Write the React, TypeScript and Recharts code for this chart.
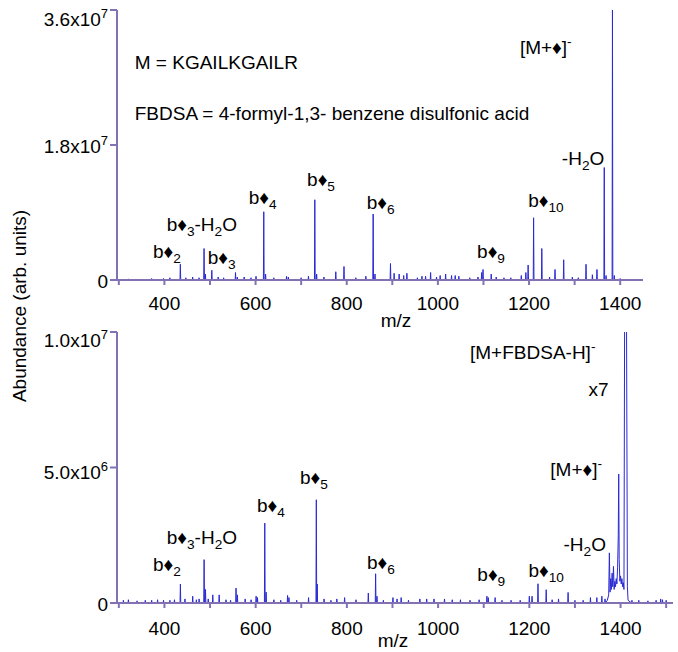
import React from 'react';
import { LineChart, Line, XAxis, YAxis, ReferenceDot } from 'recharts';

const FONT = '"Liberation Sans", Arial, Helvetica, sans-serif';
const AXIS = '#8272b4';
const TRACE = '#2a2ad4';

// upper spectrum: isolated peaks, m/z and height (x10^6)
const topPeakMz = [
  321, 340, 372, 398, 412, 435, 447, 462, 476, 487, 490, 504, 518, 530, 556, 560, 575, 590, 601, 618,
  622, 640, 668, 672, 700, 716, 730, 734, 750, 776, 794, 820, 842, 858, 862, 896, 904, 915, 925, 932,
  955, 965, 973, 984, 997, 1005, 1017, 1030, 1038, 1046, 1070, 1088, 1096, 1099, 1117, 1128, 1145, 1160,
  1183, 1193, 1198, 1210, 1228, 1245, 1257, 1276, 1295, 1308, 1325, 1339, 1349, 1365, 1369, 1383, 1387,
  1400, 1420,
];
const topPeakHeight = [
  0.15, 0.1, 0.2, 0.2, 0.3, 2.1, 0.3, 0.4, 0.3, 4.2, 0.8, 1.3, 0.4, 0.3, 1.0, 0.4, 0.4, 0.3, 0.5, 9.1,
  0.8, 0.3, 0.5, 0.4, 0.3, 0.5, 10.7, 0.8, 0.4, 1.1, 1.8, 0.3, 0.5, 8.8, 0.8, 2.2, 0.9, 0.8, 0.6, 0.9,
  0.3, 0.5, 0.5, 1.0, 0.4, 0.6, 0.8, 0.6, 0.6, 0.5, 0.3, 0.4, 1.0, 1.4, 0.8, 0.4, 0.3, 0.3,
  0.6, 1.0, 2.0, 8.3, 4.2, 0.4, 1.4, 2.7, 0.4, 0.3, 2.1, 0.7, 1.4, 15.0, 0.6, 36.5, 0.6,
  0.2, 0.1,
];

// lower spectrum: isolated peaks, m/z and height (x10^6)
const bottomPeakMz = [
  310, 321, 340, 358, 372, 385, 398, 412, 422, 435, 445, 462, 470, 476, 487, 490, 496, 506, 520, 535,
  545, 557, 560, 577, 590, 601, 604, 620, 623, 640, 655, 670, 673, 690, 716, 733, 735, 750, 765, 778,
  795, 820, 847, 863, 866, 880, 901, 910, 919, 935, 960, 975, 991, 1014, 1031, 1049, 1070, 1090, 1107,
  1110, 1125, 1140, 1160, 1180, 1200, 1206, 1219, 1237, 1250, 1264, 1285, 1300, 1318, 1334, 1348, 1359,
  1366, 1425, 1440, 1460, 1478, 1488, 1492, 1500,
];
const bottomPeakHeight = [
  0.1, 0.12, 0.08, 0.1, 0.1, 0.12, 0.1, 0.1, 0.12, 0.7, 0.15, 0.25, 0.12, 0.15, 1.6, 0.5, 0.15, 0.3, 0.3, 0.12,
  0.1, 0.55, 0.3, 0.15, 0.12, 0.25, 0.2, 2.95, 0.4, 0.12, 0.1, 0.28, 0.2, 0.1, 0.2, 3.81, 0.7, 0.15, 0.1, 0.15,
  0.2, 0.12, 0.37, 1.08, 0.25, 0.1, 0.2, 0.15, 0.2, 0.1, 0.15, 0.15, 0.15, 0.15, 0.12, 0.12, 0.1, 0.12, 0.25,
  0.2, 0.2, 0.1, 0.1, 0.1, 0.25, 0.25, 0.71, 0.49, 0.12, 0.15, 0.39, 0.1, 0.1, 0.2, 0.2, 0.25,
  0.15, 0.1, 0.1, 0.08, 0.1, 0.15, 0.12, 0.1,
];
// unresolved precursor cluster, traced point by point (x10^6)
const bottomClusterMz = [
  1371, 1374, 1375.5, 1377, 1378.5, 1380, 1381.5, 1383, 1384.5, 1386, 1387.5, 1389, 1390.5, 1392, 1393.5,
  1395, 1396, 1397, 1398.5, 1400, 1401.5, 1403, 1404.5, 1406, 1407.5, 1409, 1411, 1413, 1415, 1416.5,
];
const bottomClusterHeight = [
  0.1, 0.3, 1.85, 0.4, 0.9, 0.5, 1.1, 0.6, 1.35, 0.5, 0.8, 0.6, 0.9, 0.7, 1.3,
  2.5, 4.76, 1.6, 0.8, 1.0, 0.7, 0.9, 0.6, 0.75, 0.5, 11, 11.5, 11, 0.6, 0.1,
];

const topXDomain = [296, 1450];
const bottomXDomain = [296, 1515];
const topXTicks = [300, 400, 500, 600, 700, 800, 900, 1000, 1100, 1200, 1300, 1400];
const bottomXTicks = [300, 400, 500, 600, 700, 800, 900, 1000, 1100, 1200, 1300, 1400, 1500];
const xLabelled = [400, 600, 800, 1000, 1200, 1400];

const topYTicks = [0, 1.8e7, 3.6e7];
const topYMantissa = ['0', '1.8x10', '3.6x10'];
const topYExponent = ['', '7', '7'];
const bottomYTicks = [0, 5e6, 1e7];
const bottomYMantissa = ['0', '5.0x10', '1.0x10'];
const bottomYExponent = ['', '6', '7'];

// annotations: "_" starts a subscript, "^" a superscript
const topLabelText = [
  'M = KGAILKGAILR',
  'FBDSA = 4-formyl-1,3- benzene disulfonic acid',
  '[M+♦]^-',
  '-H_2O',
  'b♦_10',
  'b♦_9',
  'b♦_6',
  'b♦_5',
  'b♦_4',
  'b♦_3-H_2O',
  'b♦_2',
  'b♦_3',
];
const topLabelMz = [335, 335, 1180, 1272, 1198, 1086, 844, 713, 585, 405, 375, 495];
const topLabelValue = [28.1, 21.4, 30.2, 15.4, 9.8, 2.9, 9.5, 12.5, 10.1, 6.5, 3.0, 2.1];

const bottomLabelText = [
  '[M+FBDSA-H]^-',
  'x7',
  '[M+♦]^-',
  '-H_2O',
  'b♦_10',
  'b♦_9',
  'b♦_6',
  'b♦_5',
  'b♦_4',
  'b♦_3-H_2O',
  'b♦_2',
];
const bottomLabelMz = [1070, 1330, 1246, 1275, 1198, 1086, 844, 697, 603, 405, 375];
const bottomLabelValue = [9.0, 7.65, 4.7, 1.93, 0.97, 0.82, 1.27, 4.4, 3.37, 2.19, 1.19];

type Pt = { mz: number; v: number };

function spikes(mz: number[], h: number[], domain: number[]): Pt[] {
  const pts: Pt[] = [{ mz: domain[0], v: 0 }];
  mz.forEach((m, i) => {
    pts.push({ mz: m - 0.8, v: 0 }, { mz: m, v: h[i] * 1e6 }, { mz: m + 0.8, v: 0 });
  });
  pts.push({ mz: domain[1], v: 0 });
  return pts;
}

const topData = spikes(topPeakMz, topPeakHeight, topXDomain).sort((a, b) => a.mz - b.mz);
const bottomData = spikes(bottomPeakMz, bottomPeakHeight, bottomXDomain)
  .concat(bottomClusterMz.map((m, i) => ({ mz: m, v: bottomClusterHeight[i] * 1e6 })))
  .sort((a, b) => a.mz - b.mz);

type Part = { t: string; kind: 'n' | 'sub' | 'sup' };

function parseRich(s: string): Part[] {
  const out: Part[] = [];
  let i = 0;
  let buf = '';
  while (i < s.length) {
    const c = s[i];
    if (c === '_' || c === '^') {
      if (buf) out.push({ t: buf, kind: 'n' });
      buf = '';
      i++;
      let seg = s[i];
      i++;
      if (c === '_') {
        while (i < s.length && /[0-9]/.test(s[i])) {
          seg += s[i];
          i++;
        }
      }
      out.push({ t: seg, kind: c === '_' ? 'sub' : 'sup' });
    } else {
      buf += c;
      i++;
    }
  }
  if (buf) out.push({ t: buf, kind: 'n' });
  return out;
}

function RichText({ x, y, text, size = 19 }: { x: number; y: number; text: string; size?: number }) {
  const parts = parseRich(text);
  let shift = 0;
  return (
    <text x={x} y={y} fontSize={size} fontFamily={FONT} fill="#000">
      {parts.map((p, i) => {
        const target = p.kind === 'sub' ? 5 : p.kind === 'sup' ? -8 : 0;
        const dy = target - shift;
        shift = target;
        return (
          <tspan key={i} dy={dy} fontSize={p.kind === 'n' ? size : size * 0.72}>
            {p.t}
          </tspan>
        );
      })}
    </text>
  );
}

function XTick(props: any) {
  const { x, y, payload } = props;
  if (!xLabelled.includes(payload.value)) return null;
  return (
    <text x={x} y={y} dy="0.71em" textAnchor="middle" fontSize={19} fontFamily={FONT} fill="#000">
      {payload.value}
    </text>
  );
}

function makeYTick(mantissa: string[], exponent: string[], shifts: number[]) {
  return function YTick(props: any) {
    const { x, y, index } = props;
    return (
      <text x={x} y={y + shifts[index]} dy="0.35em" textAnchor="end" fontSize={19} fontFamily={FONT} fill="#000">
        {mantissa[index]}
        {exponent[index] ? (
          <tspan dy={-8} fontSize={13}>
            {exponent[index]}
          </tspan>
        ) : null}
      </text>
    );
  };
}

const TopYTick = makeYTick(topYMantissa, topYExponent, [1, 1, 9]);
const BottomYTick = makeYTick(bottomYMantissa, bottomYExponent, [1, 5, 8]);

const axisStyle = { stroke: AXIS, strokeWidth: 2 };

function Panel(props: {
  data: Pt[];
  domain: number[];
  xTicks: number[];
  yTicks: number[];
  yMax: number;
  YTick: any;
  labels: string[];
  labelMz: number[];
  labelValue: number[];
  right: number;
  bottom: number;
  tickMargin: number;
}) {
  return (
    <LineChart
      width={678}
      height={330}
      data={props.data}
      margin={{ top: 10, right: props.right, bottom: props.bottom, left: 0 }}
    >
      <XAxis
        type="number"
        dataKey="mz"
        domain={props.domain}
        allowDataOverflow
        ticks={props.xTicks}
        interval={0}
        height={40}
        tickSize={5}
        tickMargin={props.tickMargin}
        axisLine={axisStyle}
        tickLine={axisStyle}
        tick={<XTick />}
      />
      <YAxis
        type="number"
        domain={[0, props.yMax]}
        allowDataOverflow
        ticks={props.yTicks}
        interval={0}
        width={117}
        tickSize={7}
        tickMargin={2}
        axisLine={axisStyle}
        tickLine={axisStyle}
        tick={<props.YTick />}
      />
      <Line
        type="linear"
        dataKey="v"
        stroke={TRACE}
        strokeWidth={1}
        dot={false}
        isAnimationActive={false}
      />
      {props.labels.map((t, i) => (
        <ReferenceDot
          key={i}
          x={props.labelMz[i]}
          y={props.labelValue[i] * 1e6}
          r={0}
          shape={(p: any) => <RichText x={p.cx} y={p.cy} text={t} />}
        />
      ))}
    </LineChart>
  );
}

export default function App() {
  return (
    <div style={{ position: 'absolute', left: 0, top: 0, width: 678, height: 652, background: '#fff' }}>
      <div style={{ position: 'absolute', left: 0, top: 0 }}>
        <Panel
          data={topData}
          domain={topXDomain}
          xTicks={topXTicks}
          yTicks={topYTicks}
          yMax={3.6e7}
          YTick={TopYTick}
          labels={topLabelText}
          labelMz={topLabelMz}
          labelValue={topLabelValue}
          right={35}
          bottom={10}
          tickMargin={12}
        />
      </div>
      <div style={{ position: 'absolute', left: 0, top: 322 }}>
        <Panel
          data={bottomData}
          domain={bottomXDomain}
          xTicks={bottomXTicks}
          yTicks={bottomYTicks}
          yMax={1e7}
          YTick={BottomYTick}
          labels={bottomLabelText}
          labelMz={bottomLabelMz}
          labelValue={bottomLabelValue}
          right={5}
          bottom={9}
          tickMargin={14}
        />
      </div>
      <svg
        width={678}
        height={652}
        style={{ position: 'absolute', left: 0, top: 0, pointerEvents: 'none' }}
      >
        <text
          transform="translate(19,306) rotate(-90)"
          textAnchor="middle"
          dominantBaseline="central"
          fontSize={19}
          fontFamily={FONT}
          fill="#000"
        >
          Abundance (arb. units)
        </text>
        <text x={396} y={320} textAnchor="middle" dominantBaseline="central" fontSize={19} fontFamily={FONT} fill="#000">
          m/z
        </text>
        <text x={393} y={640} textAnchor="middle" dominantBaseline="central" fontSize={19} fontFamily={FONT} fill="#000">
          m/z
        </text>
      </svg>
    </div>
  );
}
